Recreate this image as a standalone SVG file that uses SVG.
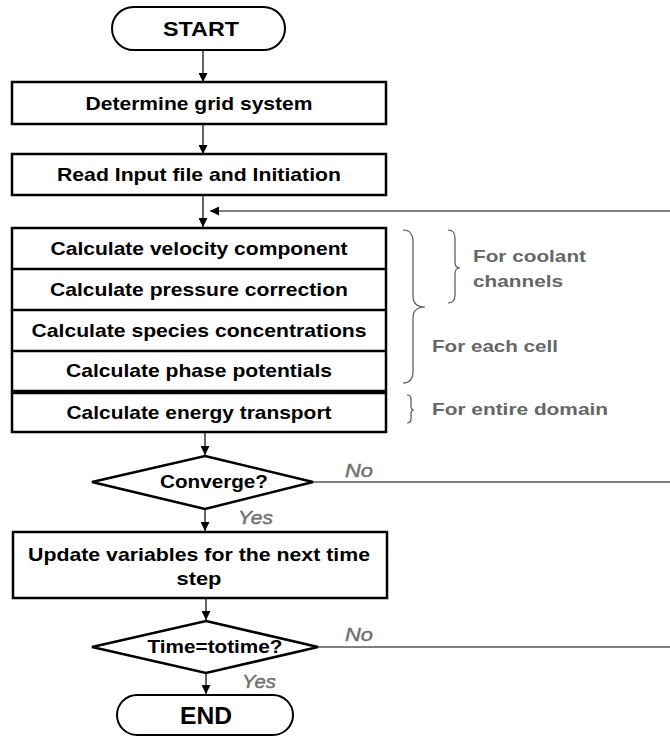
<svg xmlns="http://www.w3.org/2000/svg" width="670" height="738" viewBox="0 0 670 738">
  <style>
    .box { fill: #fff; stroke: #000; stroke-width: 2.5; }
    .term { fill: #fff; stroke: #000; stroke-width: 2; }
    .dec { fill: #fff; stroke: #000; stroke-width: 2.5; stroke-linejoin: miter; }
    .sep { stroke: #000; stroke-width: 2.5; }
    .t { font-family: "Liberation Sans", Arial, sans-serif; font-size: 18.5px; font-weight: bold; fill: #000; text-anchor: middle; }
    .tt { font-family: "Liberation Sans", Arial, sans-serif; font-weight: bold; fill: #000; text-anchor: middle; }
    .note { font-family: "Liberation Sans", Arial, sans-serif; font-size: 17px; font-weight: bold; fill: #666; }
    .lab { font-family: "Liberation Sans", Arial, sans-serif; font-size: 17.5px; font-style: italic; fill: #707070; stroke: #707070; stroke-width: 0.4; }
    .wire { fill: none; stroke: #000; stroke-width: 1.2; }
    .brace { fill: none; stroke: #555; stroke-width: 1.2; }
  </style>
  <defs>
    <marker id="arrow" viewBox="0 0 10 10" refX="10" refY="5" markerWidth="10" markerHeight="9" markerUnits="userSpaceOnUse" orient="auto">
      <path d="M0,0 L10,5 L0,10 Z" fill="#000"/>
    </marker>
  </defs>

  <!-- connectors -->
  <g id="connectors">
    <line class="wire" x1="203" y1="50" x2="203" y2="82" marker-end="url(#arrow)"/>
    <line class="wire" x1="203" y1="124" x2="203" y2="154" marker-end="url(#arrow)"/>
    <line class="wire" x1="203" y1="195" x2="203" y2="227" marker-end="url(#arrow)"/>
    <line class="wire" x1="670" y1="211" x2="210" y2="211" marker-end="url(#arrow)"/>
    <line class="wire" x1="205" y1="432" x2="205" y2="455" marker-end="url(#arrow)"/>
    <line class="wire" x1="313" y1="482" x2="670" y2="482"/>
    <line class="wire" x1="205" y1="509" x2="205" y2="531" marker-end="url(#arrow)"/>
    <line class="wire" x1="206" y1="598" x2="206" y2="620" marker-end="url(#arrow)"/>
    <line class="wire" x1="318" y1="647" x2="670" y2="647"/>
    <line class="wire" x1="206" y1="673" x2="206" y2="694" marker-end="url(#arrow)"/>
    <text class="lab" x="345" y="477" textLength="28" lengthAdjust="spacingAndGlyphs">No</text>
    <text class="lab" x="238" y="524" textLength="35" lengthAdjust="spacingAndGlyphs">Yes</text>
    <text class="lab" x="345" y="641" textLength="28" lengthAdjust="spacingAndGlyphs">No</text>
    <text class="lab" x="242" y="688" textLength="34" lengthAdjust="spacingAndGlyphs">Yes</text>
  </g>

  <g id="start">
    <rect class="term" x="112" y="7" width="173" height="43" rx="21.5"/>
    <text class="tt" x="201" y="36" font-size="21" textLength="76" lengthAdjust="spacingAndGlyphs">START</text>
  </g>

  <g id="grid">
    <rect class="box" x="12" y="82" width="374" height="42"/>
    <text class="t" x="199" y="110" textLength="227" lengthAdjust="spacingAndGlyphs">Determine grid system</text>
  </g>

  <g id="input">
    <rect class="box" x="12" y="154" width="374" height="41"/>
    <text class="t" x="199" y="181" textLength="284" lengthAdjust="spacingAndGlyphs">Read Input file and Initiation</text>
  </g>

  <g id="solver">
    <rect class="box" x="12" y="228" width="374" height="163"/>
    <line class="sep" x1="12" y1="269" x2="386" y2="269"/>
    <line class="sep" x1="12" y1="310" x2="386" y2="310"/>
    <line class="sep" x1="12" y1="351" x2="386" y2="351"/>
    <text class="t" x="199" y="255" textLength="297" lengthAdjust="spacingAndGlyphs">Calculate velocity component</text>
    <text class="t" x="199" y="296" textLength="298" lengthAdjust="spacingAndGlyphs">Calculate pressure correction</text>
    <text class="t" x="199" y="337" textLength="335" lengthAdjust="spacingAndGlyphs">Calculate species concentrations</text>
    <text class="t" x="199" y="377" textLength="266" lengthAdjust="spacingAndGlyphs">Calculate phase potentials</text>
  </g>

  <g id="energy">
    <rect class="box" x="12" y="393" width="374" height="39"/>
    <text class="t" x="199" y="419" textLength="265" lengthAdjust="spacingAndGlyphs">Calculate energy transport</text>
  </g>

  <g id="converge">
    <polygon class="dec" points="205,456 313,482 205,509 92,482"/>
    <text class="t" x="214" y="488" textLength="108" lengthAdjust="spacingAndGlyphs">Converge?</text>
  </g>

  <g id="update">
    <rect class="box" x="13" y="532" width="374" height="66"/>
    <text class="t" x="199" y="561" textLength="342" lengthAdjust="spacingAndGlyphs">Update variables for the next time</text>
    <text class="t" x="199" y="585" textLength="45" lengthAdjust="spacingAndGlyphs">step</text>
  </g>

  <g id="timecheck">
    <polygon class="dec" points="206,621 318,647 206,673 92,647"/>
    <text class="t" x="215" y="653" textLength="135" lengthAdjust="spacingAndGlyphs">Time=totime?</text>
  </g>

  <g id="end">
    <rect class="term" x="117" y="695" width="176" height="40" rx="20"/>
    <text class="tt" x="206" y="724" font-size="23" textLength="52" lengthAdjust="spacingAndGlyphs">END</text>
  </g>

  <!-- scope annotations -->
  <g id="notes">
    <path class="brace" d="M403,230 Q413,230 413,242 L413,296 Q413,307 425,307 Q413,307 413,318 L413,371 Q413,383 403,383"/>
    <path class="brace" d="M448,230 Q455,230 455,238 L455,262 Q455,268 460,268 Q455,268 455,274 L455,295 Q455,303 448,303"/>
    <path class="brace" d="M407,395 Q411,395 411,399 L411,406 Q411,410 414,410 Q411,410 411,414 L411,419 Q411,423 407,423"/>
    <text class="note" x="473" y="262" textLength="113" lengthAdjust="spacingAndGlyphs">For coolant</text>
    <text class="note" x="473" y="287" textLength="90" lengthAdjust="spacingAndGlyphs">channels</text>
    <text class="note" x="432" y="352" textLength="126" lengthAdjust="spacingAndGlyphs">For each cell</text>
    <text class="note" x="432" y="415" textLength="176" lengthAdjust="spacingAndGlyphs">For entire domain</text>
  </g>
</svg>
